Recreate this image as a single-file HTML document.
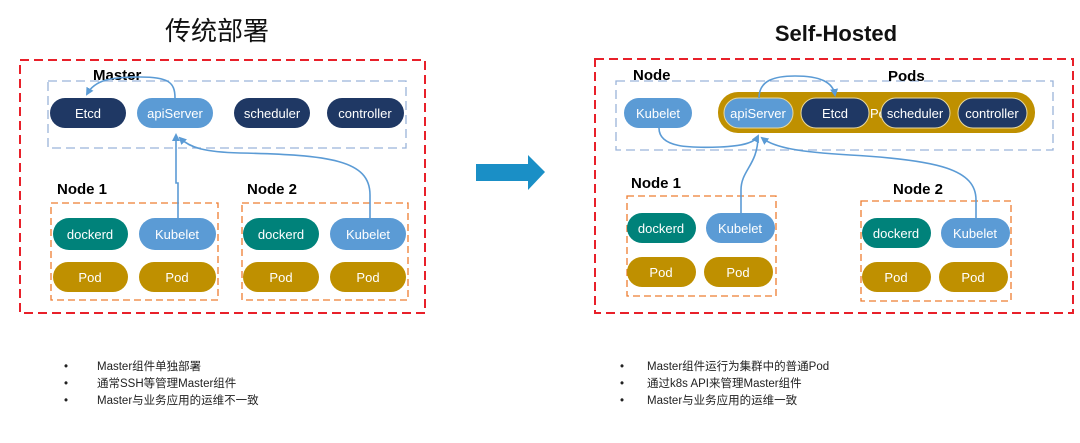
<!DOCTYPE html>
<html><head><meta charset="utf-8"><style>
body{margin:0;background:#fff;}
svg{display:block;font-family:"Liberation Sans","Noto Sans CJK SC",sans-serif;}
.p{font-size:13px;fill:#fff;text-anchor:middle;}
.l{font-size:15px;font-weight:bold;fill:#000;}
.b{font-size:11.5px;fill:#222;}
</style></head><body>
<svg width="1080" height="443" viewBox="0 0 1080 443">
<defs><marker id="a" markerWidth="8" markerHeight="8" refX="6" refY="4" orient="auto" markerUnits="userSpaceOnUse"><path d="M0,0 L8,4 L0,8 z" fill="#5b9bd5"/></marker></defs>
<text x="217" y="40" font-size="26" text-anchor="middle" fill="#111" font-family="Noto Sans CJK SC,sans-serif">传统部署</text>
<text x="836" y="41" font-size="22" font-weight="bold" text-anchor="middle" fill="#111">Self-Hosted</text>
<!-- left -->
<rect x="20" y="60" width="405" height="253" fill="none" stroke="#e8202a" stroke-width="2" stroke-dasharray="9,5"/>
<rect x="48" y="81" width="358" height="67" fill="none" stroke="#9ab3d9" stroke-width="1.3" stroke-dasharray="9,5"/>
<text x="93" y="80" class="l" font-size="16">Master</text>
<g>
<rect x="50" y="98" width="76" height="30" rx="15" fill="#1f3864"/><text x="88" y="118" class="p">Etcd</text>
<rect x="137" y="98" width="76" height="30" rx="15" fill="#5b9bd5"/><text x="175" y="118" class="p">apiServer</text>
<rect x="234" y="98" width="76" height="30" rx="15" fill="#1f3864"/><text x="272" y="118" class="p">scheduler</text>
<rect x="327" y="98" width="77" height="30" rx="15" fill="#1f3864"/><text x="365" y="118" class="p">controller</text>
</g>
<text x="57" y="194" class="l">Node 1</text>
<rect x="51" y="203" width="167" height="97" fill="none" stroke="#ed7d31" stroke-width="1.3" stroke-dasharray="7,4"/>
<rect x="53" y="218" width="75" height="32" rx="16" fill="#00827a"/><text x="90" y="239" class="p">dockerd</text>
<rect x="139" y="218" width="77" height="32" rx="16" fill="#5b9bd5"/><text x="177" y="239" class="p">Kubelet</text>
<rect x="53" y="262" width="75" height="30" rx="15" fill="#bf9000"/><text x="90" y="282" class="p">Pod</text>
<rect x="139" y="262" width="77" height="30" rx="15" fill="#bf9000"/><text x="177" y="282" class="p">Pod</text>
<text x="247" y="194" class="l">Node 2</text>
<rect x="242" y="203" width="166" height="97" fill="none" stroke="#ed7d31" stroke-width="1.3" stroke-dasharray="7,4"/>
<rect x="243" y="218" width="76" height="32" rx="16" fill="#00827a"/><text x="281" y="239" class="p">dockerd</text>
<rect x="330" y="218" width="76" height="32" rx="16" fill="#5b9bd5"/><text x="368" y="239" class="p">Kubelet</text>
<rect x="243" y="262" width="76" height="30" rx="15" fill="#bf9000"/><text x="281" y="282" class="p">Pod</text>
<rect x="330" y="262" width="76" height="30" rx="15" fill="#bf9000"/><text x="368" y="282" class="p">Pod</text>
<g fill="none" stroke="#5b9bd5" stroke-width="1.6">
<path d="M175,98 C175,82 168,77 140,77 C110,77 95,80 87,94" marker-end="url(#a)"/>
<path d="M178,218 L178,183 L176,183 L176,135" marker-end="url(#a)"/>
<path d="M370,218 L370,195 C370,160 330,155 240,153 C205,152 190,148 180,138" marker-end="url(#a)"/>
</g>
<!-- arrow -->
<path d="M476,164 L528,164 L528,155 L545,172 L528,190 L528,181 L476,181 z" fill="#1a8fc6"/>
<!-- right -->
<rect x="595" y="59" width="478" height="254" fill="none" stroke="#e8202a" stroke-width="2" stroke-dasharray="9,5"/>
<rect x="616" y="81" width="437" height="69" fill="none" stroke="#9ab3d9" stroke-width="1.3" stroke-dasharray="9,5"/>
<text x="633" y="80" class="l" font-size="16">Node</text>
<text x="888" y="81" class="l" font-size="16">Pods</text>
<rect x="624" y="98" width="68" height="30" rx="15" fill="#5b9bd5"/><text x="658" y="118" class="p">Kubelet</text>
<rect x="718" y="92" width="317" height="41" rx="20" fill="#bf9000"/>
<text x="870" y="118" font-size="13" fill="#fff">Po</text>
<rect x="724" y="98" width="69" height="30" rx="15" fill="#5b9bd5" stroke="#e8d9a0"/><text x="758" y="118" class="p">apiServer</text>
<rect x="801" y="98" width="68" height="30" rx="15" fill="#1f3864" stroke="#e8d9a0"/><text x="835" y="118" class="p">Etcd</text>
<rect x="881" y="98" width="69" height="30" rx="15" fill="#1f3864" stroke="#e8d9a0"/><text x="915" y="118" class="p">scheduler</text>
<rect x="958" y="98" width="69" height="30" rx="15" fill="#1f3864" stroke="#e8d9a0"/><text x="992" y="118" class="p">controller</text>
<text x="631" y="188" class="l">Node 1</text>
<rect x="627" y="196" width="149" height="100" fill="none" stroke="#ed7d31" stroke-width="1.3" stroke-dasharray="7,4"/>
<rect x="627" y="213" width="69" height="30" rx="15" fill="#00827a"/><text x="661" y="233" class="p">dockerd</text>
<rect x="706" y="213" width="69" height="30" rx="15" fill="#5b9bd5"/><text x="740" y="233" class="p">Kubelet</text>
<rect x="627" y="257" width="69" height="30" rx="15" fill="#bf9000"/><text x="661" y="277" class="p">Pod</text>
<rect x="704" y="257" width="69" height="30" rx="15" fill="#bf9000"/><text x="738" y="277" class="p">Pod</text>
<text x="893" y="194" class="l">Node 2</text>
<rect x="861" y="201" width="150" height="100" fill="none" stroke="#ed7d31" stroke-width="1.3" stroke-dasharray="7,4"/>
<rect x="862" y="218" width="69" height="30" rx="15" fill="#00827a"/><text x="896" y="238" class="p">dockerd</text>
<rect x="941" y="218" width="69" height="30" rx="15" fill="#5b9bd5"/><text x="975" y="238" class="p">Kubelet</text>
<rect x="862" y="262" width="69" height="30" rx="15" fill="#bf9000"/><text x="896" y="282" class="p">Pod</text>
<rect x="939" y="262" width="69" height="30" rx="15" fill="#bf9000"/><text x="973" y="282" class="p">Pod</text>
<g fill="none" stroke="#5b9bd5" stroke-width="1.6">
<path d="M759,98 C759,80 775,76 795,76 C820,76 833,82 835,95" marker-end="url(#a)"/>
<path d="M659,128 C659,148 690,148 720,147 C745,146 755,142 758,136" marker-end="url(#a)"/>
<path d="M741,213 L741,190 C741,170 758,165 758,136"/>
<path d="M976,218 L976,200 C976,170 940,160 850,155 C800,152 775,148 762,138" marker-end="url(#a)"/>
</g>
<!-- bullets -->
<g class="b">
<text x="64" y="370">•</text><text x="97" y="370">Master组件单独部署</text>
<text x="64" y="387">•</text><text x="97" y="387">通常SSH等管理Master组件</text>
<text x="64" y="404">•</text><text x="97" y="404">Master与业务应用的运维不一致</text>
<text x="620" y="370">•</text><text x="647" y="370">Master组件运行为集群中的普通Pod</text>
<text x="620" y="387">•</text><text x="647" y="387">通过k8s API来管理Master组件</text>
<text x="620" y="404">•</text><text x="647" y="404">Master与业务应用的运维一致</text>
</g>
</svg>
</body></html>
